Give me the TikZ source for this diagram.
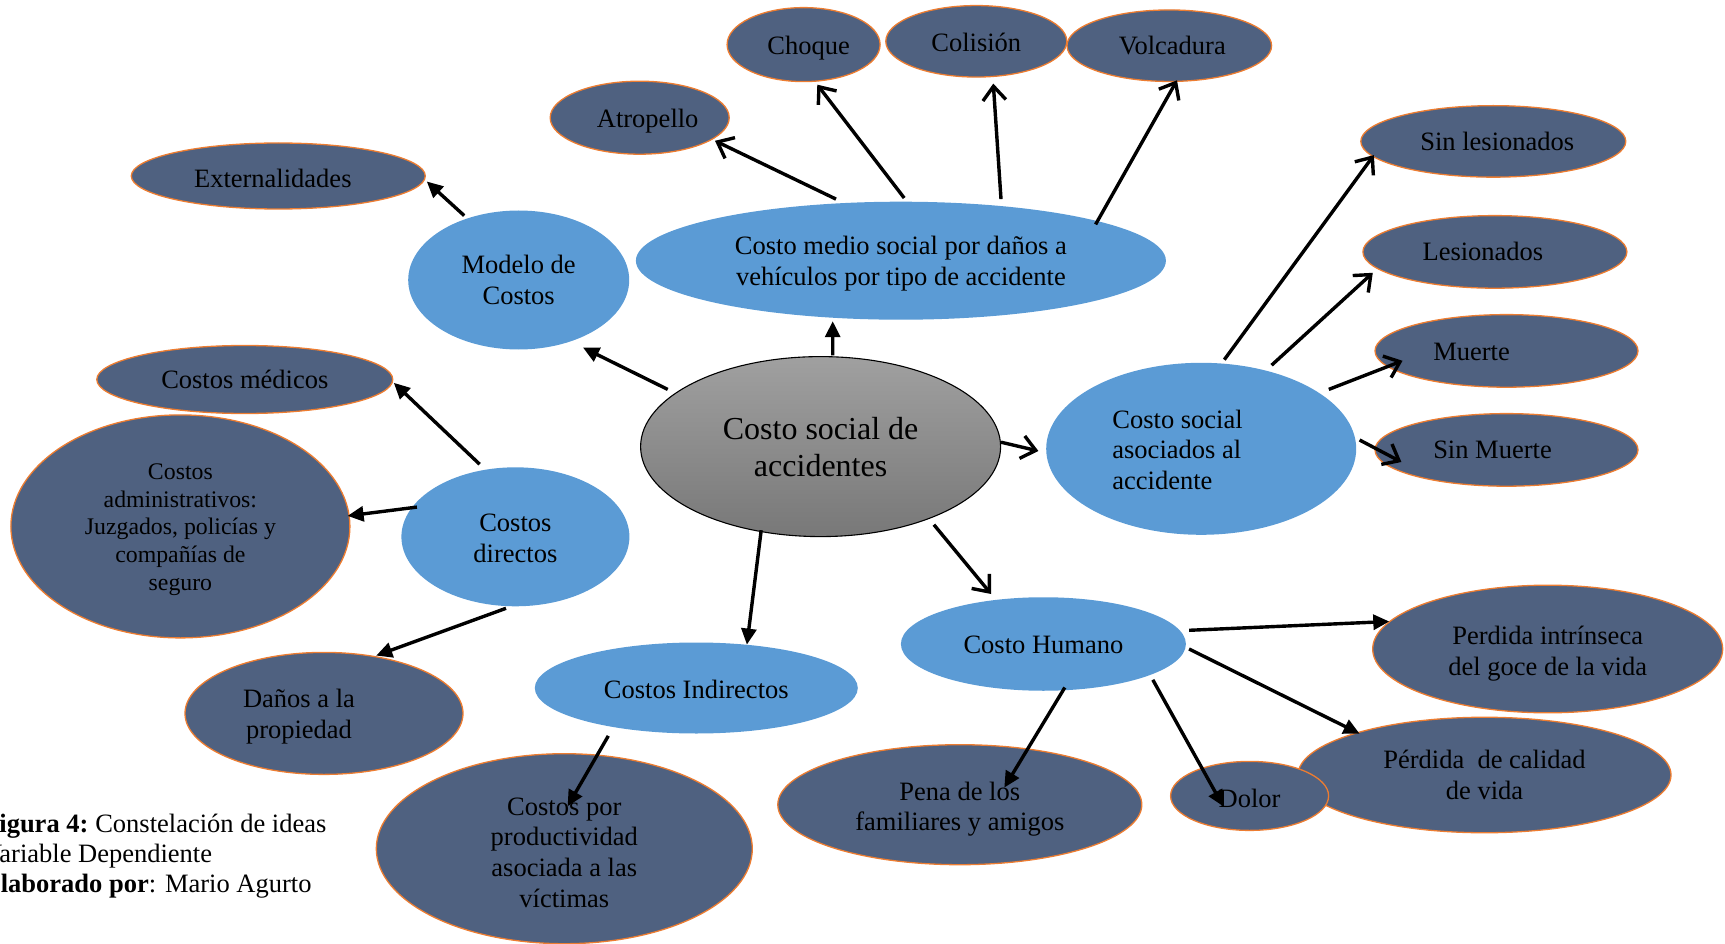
\documentclass[tikz,border=0pt]{standalone}
\usepackage{fontspec}
\setmainfont{Liberation Serif}
\usetikzlibrary{shapes.geometric,arrows.meta,calc}

\definecolor{skyfill}{RGB}{91,155,213}
\definecolor{slatefill}{RGB}{79,97,128}
\definecolor{rimorange}{RGB}{237,125,49}
\definecolor{graytop}{RGB}{160,160,160}
\definecolor{graybot}{RGB}{120,120,120}

\tikzset{
  oval/.style={ellipse, inner sep=0pt, align=center, text=black,
    font=\fontsize{26.5}{30.8}\selectfont},
  sky/.style={oval, fill=skyfill},
  slate/.style={oval, fill=slatefill, draw=rimorange, line width=1.3pt},
  core/.style={oval, top color=graytop, bottom color=graybot, draw=black,
    line width=1.1pt, font=\fontsize{32}{37}\selectfont},
  ovaltext/.style={inner sep=0pt, align=center, text=black,
    font=\fontsize{26.5}{30.8}\selectfont},
  captext/.style={inner sep=0pt, anchor=base west, text=black,
    font=\fontsize{26.5}{30}\selectfont},
  link/.style={line width=3.4pt, draw=black},
  fullhead/.style={link, -{Triangle[length=16pt,width=15pt]}},
  openhead/.style={link, -{Straight Barb[length=14pt,width=23pt]}},
}

\begin{document}
\begin{tikzpicture}[x=1pt,y=-1pt]
\useasboundingbox (0,0) rectangle (1725,944);
\clip (0,0) rectangle (1725,944);

% central idea
\node[core, minimum width=360pt, minimum height=180pt] (c) at (820.6,446.6) {Costo social de\\accidentes};

% first-level concepts
\node[sky, minimum width=530pt, minimum height=118pt] (medio) at (900.9,260.7) {};
\node[ovaltext] (medioT) at ($(medio)+(0,3.3)$) {Costo medio social por daños a\\vehículos por tipo de accidente};
\node[sky, minimum width=221pt, minimum height=139pt] (modelo) at (518.7,280) {Modelo de\\Costos};
\node[sky, minimum width=310pt, minimum height=172pt] (asoc) at (1201.2,448.8) {};
\node[ovaltext, align=left, anchor=west] (asocT) at ($(asoc)+(-89,1)$) {Costo social\\asociados al\\accidente};
\node[sky, minimum width=228pt, minimum height=139pt] (directos) at (515.4,536.8) {};
\node[ovaltext] (directosT) at ($(directos)+(0,1.5)$) {Costos\\directos};
\node[sky, minimum width=323pt, minimum height=91pt] (indirectos) at (696.3,688) {};
\node[ovaltext] (indirectosT) at ($(indirectos)+(0,1.2)$) {Costos Indirectos};
\node[sky, minimum width=285pt, minimum height=93.5pt] (humano) at (1043.4,644) {};
\node[ovaltext] (humanoT) at ($(humano)+(0,1.2)$) {Costo Humano};

% vehicle accident types
\node[slate, minimum width=294pt, minimum height=66pt] (ext) at (278.3,176) {};
\node[ovaltext] (extT) at ($(ext)+(-5.5,2)$) {Externalidades};
\node[slate, minimum width=179pt, minimum height=73pt] (atro) at (639.7,117.7) {};
\node[ovaltext] (atroT) at ($(atro)+(8,3)$) {Atropello};
\node[slate, minimum width=153pt, minimum height=74pt] (choque) at (803.6,44.6) {};
\node[ovaltext] (choqueT) at ($(choque)+(5,3.3)$) {Choque};
\node[slate, minimum width=181pt, minimum height=71.5pt] (colision) at (976.3,41.3) {};
\node[ovaltext] (colisionT) at ($(colision)+(0,1.1)$) {Colisión};
\node[slate, minimum width=204.6pt, minimum height=71.5pt] (volc) at (1169.3,45.7) {};
\node[ovaltext] (volcT) at ($(volc)+(3,0)$) {Volcadura};

% casualty outcomes
\node[slate, minimum width=265pt, minimum height=71.5pt] (sinles) at (1493.3,141.4) {};
\node[ovaltext] (sinlesT) at ($(sinles)+(4,0)$) {Sin lesionados};
\node[slate, minimum width=264pt, minimum height=72.6pt] (les) at (1494.9,251.9) {};
\node[ovaltext] (lesT) at ($(les)+(-12,0)$) {Lesionados};
\node[slate, minimum width=263pt, minimum height=72.6pt] (muerte) at (1506.5,350.9) {};
\node[ovaltext] (muerteT) at ($(muerte)+(-35,1)$) {Muerte};
\node[slate, minimum width=263pt, minimum height=72.6pt] (sinmuerte) at (1506.5,449.9) {};
\node[ovaltext] (sinmuerteT) at ($(sinmuerte)+(-14,0)$) {Sin Muerte};

% direct costs
\node[slate, minimum width=296pt, minimum height=68pt] (medicos) at (244.8,379.5) {Costos médicos};
\node[slate, minimum width=339pt, minimum height=223pt] (admin) at (180.4,526.4) {};
\node[ovaltext, font=\fontsize{23.8}{27.7}\selectfont] (adminT) at ($(admin)+(0,3)$) {Costos\\administrativos:\\Juzgados, policías y\\compañías de\\seguro};
\node[slate, minimum width=278pt, minimum height=122pt] (danos) at (324,713.4) {};
\node[ovaltext] (danosT) at ($(danos)+(-25,3.3)$) {Daños a la\\propiedad};

% indirect costs
\node[slate, minimum width=376pt, minimum height=190pt] (prod) at (564.3,848.7) {};
\node[ovaltext] (prodT) at ($(prod)+(0,4)$) {Costos por\\productividad\\asociada a las\\víctimas};

% human costs
\node[slate, minimum width=350pt, minimum height=127.6pt] (perdida) at (1547.7,649) {};
\node[ovaltext] (perdidaT) at ($(perdida)+(0,4.4)$) {Perdida intrínseca\\del goce de la vida};
\node[slate, minimum width=373pt, minimum height=115.5pt] (calidad) at (1484.5,775) {Pérdida\ \ de calidad\\de vida};
\node[slate, minimum width=158pt, minimum height=69pt] (dolor) at (1249.6,795.9) {};
\node[ovaltext] (dolorT) at ($(dolor)+(0,3)$) {Dolor};
\node[slate, minimum width=364pt, minimum height=120pt] (pena) at (959.8,804.7) {};
\node[ovaltext] (penaT) at ($(pena)+(0,4.4)$) {Pena de los\\familiares y amigos};

% connectors with filled heads
\draw[fullhead] ($(c)+(12.1,-91.3)$) -- ($(medio)+(-68.2,60.5)$);
\draw[fullhead] ($(c)+(-152.9,-57.2)$) -- ($(modelo)+(64.3,67.6)$);
\draw[fullhead] ($(modelo)+(-54.5,-64.4)$) -- ($(ext)+(148.5,5.5)$);
\draw[fullhead] ($(directos)+(-35.8,-72.6)$) -- ($(medicos)+(149,3.3)$);
\draw[fullhead] ($(directos)+(-98.5,-29.7)$) -- ($(admin)+(167.2,-10.5)$);
\draw[fullhead] ($(directos)+(-9.4,71.5)$) -- ($(danos)+(52.2,-57.8)$);
\draw[fullhead] ($(c)+(-59.4,83.6)$) -- ($(indirectos)+(50.6,-43.4)$);
\draw[fullhead] ($(indirectos)+(-88,47.9)$) -- ($(prod)+(3.3,-42.4)$);
\draw[fullhead] ($(humano)+(145.7,-13.7)$) -- ($(perdida)+(-158.4,-27.5)$);
\draw[fullhead] ($(humano)+(145.7,5)$) -- ($(calidad)+(-124.9,-41.3)$);
\draw[fullhead] ($(humano)+(109.4,35.8)$) -- ($(dolor)+(-26.4,10.4)$);
\draw[fullhead] ($(humano)+(21.4,43.5)$) -- ($(pena)+(44.5,-17.1)$);

% connectors with open heads
\draw[openhead] ($(medio)+(-64.9,-61.6)$) -- ($(atro)+(75.3,23.1)$);
\draw[openhead] ($(medio)+(3.3,-62.7)$) -- ($(choque)+(13.7,40.1)$);
\draw[openhead] ($(medio)+(100.1,-61.6)$) -- ($(colision)+(17,42.3)$);
\draw[openhead] ($(medio)+(194.7,-36.3)$) -- ($(volc)+(7.7,34.6)$);
\draw[openhead] ($(asoc)+(23.1,-89.1)$) -- ($(sinles)+(-119.4,13.7)$);
\draw[openhead] ($(asoc)+(70.4,-83.6)$) -- ($(les)+(-122.1,20.9)$);
\draw[openhead] ($(asoc)+(127.6,-59.4)$) -- ($(muerte)+(-104,9.9)$);
\draw[openhead] ($(asoc)+(158.4,-8.8)$) -- ($(sinmuerte)+(-105.1,12.1)$);
\draw[openhead] ($(c)+(180.4,-4.4)$) -- ($(asoc)+(-162.8,2.2)$);
\draw[openhead] ($(c)+(113.3,78.1)$) -- ($(humano)+(-52.3,-50)$);

% caption
\node[captext] (cap1) at (-17,832) {\textbf{Figura 4:}\hspace{-2pt} Constelación de ideas};
\node[captext] (cap2) at (-17,862) {Variable Dependiente};
\node[captext] (cap3) at (-17,892) {\textbf{Elaborado por}: Mario Agurto};
\end{tikzpicture}
\end{document}
